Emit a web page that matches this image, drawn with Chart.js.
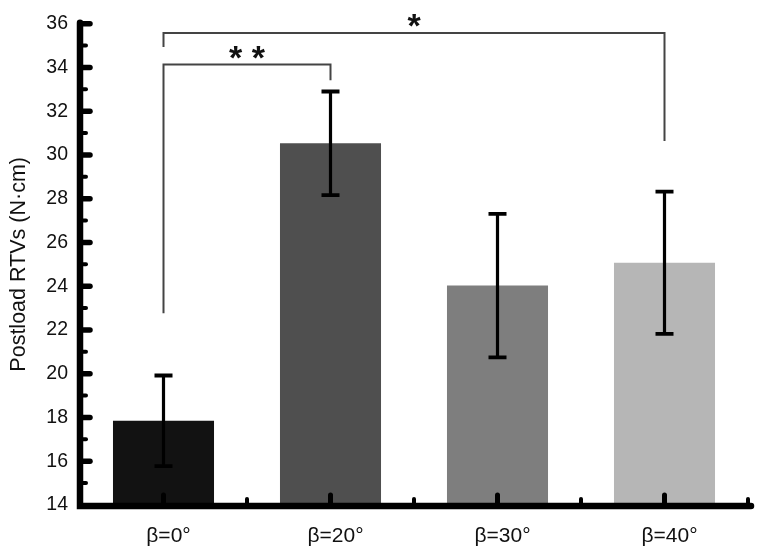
<!DOCTYPE html>
<html>
<head>
<meta charset="utf-8">
<script src="https://cdn.jsdelivr.net/npm/chart.js@4/dist/chart.umd.min.js"></script>
<style>
  html, body { margin: 0; padding: 0; background: #ffffff; }
  #wrap { width: 761px; height: 552px; position: relative; }
</style>
</head>
<body>
<div id="wrap"><canvas id="c" width="761" height="552"></canvas></div>
<script>
// ---- data ----
const categories = ['β=0°', 'β=20°', 'β=30°', 'β=40°'];
const means = [17.85, 30.53, 24.03, 25.07];
const errors = [2.07, 2.37, 3.28, 3.25];
const barColors = ['#121212', '#4f4f4f', '#7e7e7e', '#b6b6b6'];
const yMin = 14, yMax = 36, yStep = 2;
// significance brackets (category indices and y values in data units)
const bracketFrom = [0, 0];
const bracketTo = [1, 3];
const bracketTop = [34.13, 35.57];
const bracketLeftEnd = [22.77, 34.93];
const bracketRightEnd = [33.41, 30.64];
const bracketLabels = ['* *', '*'];

const FONT = '"Liberation Sans", Arial, Helvetica, sans-serif';

const overlay = {
  id: 'overlay',
  afterDatasetsDraw(chart) {
    const ctx = chart.ctx;
    const x = chart.scales.x, y = chart.scales.y;
    const area = chart.chartArea;
    ctx.save();

    // error bars
    ctx.strokeStyle = '#000';
    ctx.lineCap = 'butt';
    means.forEach((m, i) => {
      const cx = x.getPixelForValue(i);
      const top = y.getPixelForValue(m + errors[i]);
      const bot = y.getPixelForValue(m - errors[i]);
      ctx.lineWidth = 3.2;
      ctx.beginPath();
      ctx.moveTo(cx, top); ctx.lineTo(cx, bot);
      ctx.stroke();
      ctx.lineWidth = 3.8;
      ctx.beginPath();
      ctx.moveTo(cx - 9, top); ctx.lineTo(cx + 9, top);
      ctx.moveTo(cx - 9, bot); ctx.lineTo(cx + 9, bot);
      ctx.stroke();
    });

    // brackets
    ctx.strokeStyle = '#444';
    ctx.lineWidth = 2;
    bracketFrom.forEach((f, k) => {
      const x1 = x.getPixelForValue(f);
      const x2 = x.getPixelForValue(bracketTo[k]);
      const yt = y.getPixelForValue(bracketTop[k]);
      const yl = y.getPixelForValue(bracketLeftEnd[k]);
      const yr = y.getPixelForValue(bracketRightEnd[k]);
      ctx.beginPath();
      ctx.moveTo(x1, yl); ctx.lineTo(x1, yt); ctx.lineTo(x2, yt); ctx.lineTo(x2, yr);
      ctx.stroke();
      ctx.fillStyle = '#111';
      ctx.font = 'bold 34px ' + FONT;
      ctx.textAlign = 'center';
      ctx.textBaseline = 'alphabetic';
      const mt = ctx.measureText(bracketLabels[k]);
      const cy = yt - 6 - (mt.actualBoundingBoxAscent + mt.actualBoundingBoxDescent) / 2;
      const base = cy + (mt.actualBoundingBoxAscent - mt.actualBoundingBoxDescent) / 2;
      ctx.fillText(bracketLabels[k], (x1 + x2) / 2, base);
    });

    // axes
    ctx.strokeStyle = '#000';
    ctx.fillStyle = '#000';
    ctx.lineCap = 'round';
    const ax = area.left, ay = area.bottom + 1;
    ctx.lineWidth = 6.5;
    ctx.beginPath();
    ctx.moveTo(ax, y.getPixelForValue(yMax) - 1);
    ctx.lineTo(ax, ay);
    ctx.lineTo(area.right + 3, ay);
    ctx.stroke();
    // y ticks (major every step, minor in between)
    for (let v = yMin + 1; v <= yMax; v += 1) {
      const py = y.getPixelForValue(v);
      const major = (v - yMin) % yStep === 0;
      ctx.lineWidth = major ? 5.5 : 4;
      ctx.beginPath();
      ctx.moveTo(ax, py);
      ctx.lineTo(ax + (major ? 10 : 6), py);
      ctx.stroke();
    }
    // x ticks: major at category centres, minor at boundaries
    const n = categories.length;
    for (let i = 0; i < n; i++) {
      const px = x.getPixelForValue(i);
      ctx.lineWidth = 5;
      ctx.beginPath();
      ctx.moveTo(px, ay); ctx.lineTo(px, ay - 11);
      ctx.stroke();
      const bx = (x.getPixelForValue(i) + (i + 1 < n ? x.getPixelForValue(i + 1) : 2 * x.getPixelForValue(i) - x.getPixelForValue(i - 1))) / 2;
      ctx.lineWidth = 4;
      ctx.beginPath();
      ctx.moveTo(bx, ay); ctx.lineTo(bx, ay - 7);
      ctx.stroke();
    }
    ctx.restore();
  }
};

new Chart(document.getElementById('c'), {
  type: 'bar',
  data: {
    labels: categories,
    datasets: [{
      data: means,
      backgroundColor: barColors,
      borderWidth: 0,
      barPercentage: 0.605,
      categoryPercentage: 1.0
    }]
  },
  options: {
    responsive: false,
    animation: false,
    devicePixelRatio: 1,
    layout: { padding: { left: 0, right: 13, top: 13, bottom: 0 } },
    plugins: { legend: { display: false }, tooltip: { enabled: false } },
    scales: {
      x: {
        grid: { display: false, drawTicks: false },
        border: { display: false },
        ticks: { color: '#111', font: { family: FONT, size: 21 }, padding: 19, labelOffset: 5 },
        afterFit(s) { s.height = 47; }
      },
      y: {
        min: yMin, max: yMax,
        grid: { display: false, drawTicks: false },
        border: { display: false },
        ticks: { stepSize: yStep, color: '#111', font: { family: FONT, size: 19.5 }, padding: 12 },
        title: { display: true, text: 'Postload RTVs (N·cm)', color: '#111', font: { family: FONT, size: 21.5 }, padding: { top: 6, bottom: 0 } },
        afterFit(s) { s.width = 80; }
      }
    }
  },
  plugins: [overlay]
});
</script>
</body>
</html>
